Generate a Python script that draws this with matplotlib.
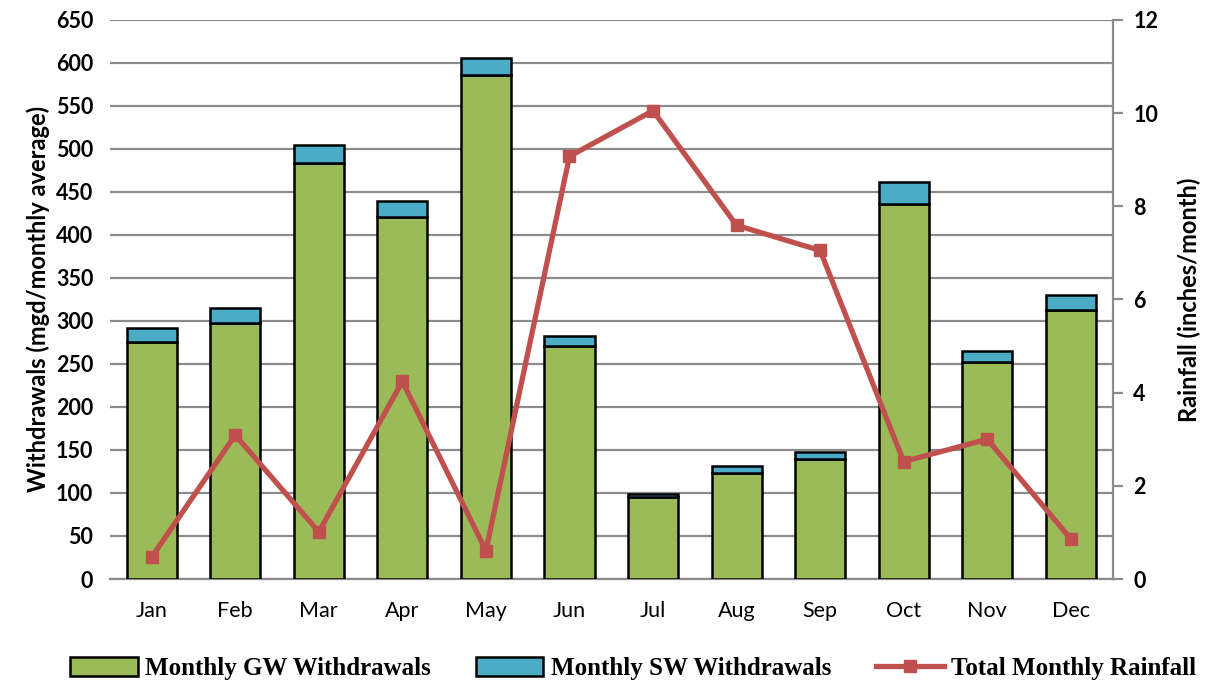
import matplotlib
matplotlib.use("Agg")
import matplotlib.pyplot as plt
import numpy as np
from matplotlib.patches import Patch
from matplotlib.lines import Line2D

months = ["Jan", "Feb", "Mar", "Apr", "May", "Jun", "Jul", "Aug", "Sep", "Oct", "Nov", "Dec"]
gw = [275, 298, 484, 421, 586, 271, 95, 123, 139, 436, 252, 313]
total = [292, 315, 504, 439, 606, 282, 99, 131, 148, 462, 265, 330]
sw = [t - g for t, g in zip(total, gw)]
rain = [0.47, 3.09, 1.01, 4.24, 0.61, 9.07, 10.05, 7.59, 7.05, 2.52, 3.0, 0.86]

green = "#9BBB59"
blue = "#4BACC6"
red = "#C0504D"
grid_c = "#8C8C8C"
tickfont = "Lato"

fig = plt.figure(figsize=(12.08, 6.84), dpi=100)
ax = fig.add_axes([0.091, 0.1535, 0.83, 0.8175])
x = np.arange(len(months))
ax.bar(x, gw, width=0.6, color=green, edgecolor="black", linewidth=1.8, zorder=3)
ax.bar(x, sw, width=0.6, bottom=gw, color=blue, edgecolor="black", linewidth=1.8, zorder=3)
ax.set_xlim(-0.5, 11.5)
ax.set_ylim(0, 650)
ax.set_yticks(np.arange(0, 651, 50))
ax.yaxis.grid(True, color=grid_c, linewidth=1.6, zorder=0)
ax.set_axisbelow(True)
for s in ["left", "top", "right"]:
    ax.spines[s].set_visible(False)
ax.spines["bottom"].set_color(grid_c)
ax.spines["bottom"].set_linewidth(1.6)
ax.tick_params(axis="y", length=0, pad=12)
ax.tick_params(axis="x", length=0, pad=16)
ax.set_xticks(x)
ax.set_xticklabels(months, fontsize=15.5, family=tickfont)
for lab in ax.get_yticklabels():
    lab.set_fontsize(15.5)
    lab.set_fontweight("bold")
    lab.set_family(tickfont)
ax.set_ylabel("Withdrawals (mgd/monthly average)", fontsize=17, fontweight="bold",
              family=tickfont, labelpad=4)

ax2 = ax.twinx()
ax2.plot(x, rain, color=red, linewidth=3.8, marker="s", markersize=8, zorder=5)
ax2.set_ylim(0, 12)
ax2.set_yticks(np.arange(0, 13, 2))
for s in ["left", "top", "bottom"]:
    ax2.spines[s].set_visible(False)
ax2.spines["right"].set_color(grid_c)
ax2.spines["right"].set_linewidth(1.6)
ax2.tick_params(axis="y", length=7, width=1.6, color=grid_c, pad=8)
for lab in ax2.get_yticklabels():
    lab.set_fontsize(15.5)
    lab.set_fontweight("bold")
    lab.set_family(tickfont)
ax2.set_ylabel("Rainfall (inches/month)", fontsize=17, fontweight="bold",
               family=tickfont, labelpad=14)

handles = [
    Patch(facecolor=green, edgecolor="black", linewidth=1.8),
    Patch(facecolor=blue, edgecolor="black", linewidth=1.8),
    Line2D([0], [0], color=red, linewidth=3.8, marker="s", markersize=8),
]
labels = ["Monthly GW Withdrawals", "Monthly SW Withdrawals", "Total Monthly Rainfall"]
fig.legend(handles, labels, loc="center left", bbox_to_anchor=(0.058, 0.023), ncol=3,
           frameon=False, prop={"family": "Liberation Serif", "weight": "bold", "size": 18},
           handlelength=2.7, handleheight=0.8, columnspacing=1.8, handletextpad=0.3,
           borderaxespad=0, borderpad=0)

fig.savefig("out.png", dpi=100)
